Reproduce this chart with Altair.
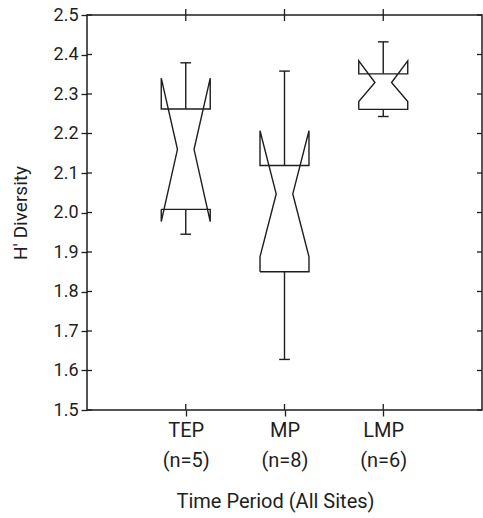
import altair as alt
import pandas as pd

# ---- data ----
cats = ["TEP", "MP", "LMP"]
n_sites = [5, 8, 6]
whisk_lo = [1.945, 1.628, 2.243]
q1 = [2.008, 1.850, 2.261]
notch_lo = [1.977, 1.888, 2.281]
median = [2.160, 2.047, 2.329]
notch_hi = [2.340, 2.207, 2.384]
q3 = [2.262, 2.119, 2.351]
whisk_hi = [2.379, 2.358, 2.432]
y_ticks = [1.5, 1.6, 1.7, 1.8, 1.9, 2.0, 2.1, 2.2, 2.3, 2.4, 2.5]

# ---- geometry (style) ----
HALF = 0.248   # box half width in category units
INSET = 0.084  # half width at the notch waist
CAP = 0.054    # whisker cap half width
INK = "#1e1e1e"
FONT = "Roboto"
W, H = 395, 395

pos = list(range(1, len(cats) + 1))

outline = []
for i, c in enumerate(cats):
    xc = pos[i]
    L, R = xc - HALF, xc + HALF
    pts = [(L, q1[i]), (R, q1[i]), (R, notch_lo[i]), (xc + INSET, median[i]),
           (R, notch_hi[i]), (R, q3[i]), (L, q3[i]), (L, notch_hi[i]),
           (xc - INSET, median[i]), (L, notch_lo[i]), (L, q1[i])]
    for k, (x, y) in enumerate(pts):
        outline.append({"cat": c, "k": k, "x": x, "y": y})
outline = pd.DataFrame(outline)

whisk = pd.DataFrame({
    "cat": cats * 2,
    "x": pos * 2,
    "y": q3 + q1,
    "y2": whisk_hi + whisk_lo,
})
whisk["xl"] = whisk["x"] - CAP
whisk["xr"] = whisk["x"] + CAP

ticks_df = pd.DataFrame({"t": y_ticks})
cat_df = pd.DataFrame({"p": pos})

label_map = "{" + ", ".join(
    f"'{p}': ['{c}', '(n={n})']" for p, c, n in zip(pos, cats, n_sites)) + "}"

xscale = alt.Scale(domain=[0, 4], nice=False, zero=False)
yscale = alt.Scale(domain=[1.5, 2.5], nice=False, zero=False)

xaxis = alt.Axis(values=pos, labelExpr=f"{label_map}[datum.value + '']",
                 title="Time Period (All Sites)", domain=False, grid=False,
                 tickSize=6, tickColor=INK, tickWidth=1.3,
                 labelFont=FONT, labelFontSize=20, labelColor=INK,
                 labelLineHeight=30, labelPadding=4, labelOverlap=False,
                 titleFont=FONT, titleFontSize=20, titleFontWeight="normal",
                 titleColor=INK, titlePadding=21, titleX=188)
yaxis = alt.Axis(values=y_ticks, format=".1f", title="H' Diversity",
                 domain=False, grid=False, tickSize=6, tickColor=INK,
                 tickWidth=1.3, labelFont=FONT, labelFontSize=18,
                 labelColor=INK, labelPadding=3, labelOverlap=False,
                 labelFlush=False, titleFont=FONT,
                 titleFontSize=19, titleFontWeight="normal", titleColor=INK,
                 titlePadding=23)

box = alt.Chart(outline).mark_line(color=INK, strokeWidth=1.4).encode(
    x=alt.X("x:Q", scale=xscale, axis=xaxis),
    y=alt.Y("y:Q", scale=yscale, axis=yaxis),
    detail="cat:N",
    order="k:Q",
)

wl = alt.Chart(whisk).mark_rule(color=INK, strokeWidth=1.4).encode(
    x=alt.X("x:Q", axis=xaxis), y=alt.Y("y:Q", axis=yaxis), y2="y2:Q")
caps = alt.Chart(whisk).mark_rule(color=INK, strokeWidth=1.4).encode(
    x=alt.X("xl:Q", axis=xaxis), x2="xr:Q", y=alt.Y("y2:Q", axis=yaxis))

left_in = alt.Chart(ticks_df).mark_rule(color=INK, strokeWidth=1.3).encode(
    y=alt.Y("t:Q", axis=yaxis), x=alt.value(0), x2=alt.value(5))
right_in = alt.Chart(ticks_df).mark_rule(color=INK, strokeWidth=1.3).encode(
    y=alt.Y("t:Q", axis=yaxis), x=alt.value(W - 5), x2=alt.value(W))
top_t = alt.Chart(cat_df).mark_rule(color=INK, strokeWidth=1.3).encode(
    x=alt.X("p:Q", axis=xaxis), y=alt.value(-6), y2=alt.value(6))
bot_in = alt.Chart(cat_df).mark_rule(color=INK, strokeWidth=1.3).encode(
    x=alt.X("p:Q", axis=xaxis), y=alt.value(H - 6), y2=alt.value(H))

chart = alt.layer(box, wl, caps, left_in, right_in, top_t, bot_in).properties(
    width=W, height=H,
    autosize=alt.AutoSizeParams(type="none"),
    padding={"left": 87, "top": 15, "right": 1, "bottom": 108},
    background="white",
).configure_view(stroke=INK, strokeWidth=1.5
).configure_axis(labelOverlap=False)

chart.save("out.html", embed_options={"renderer": "svg", "actions": False})
